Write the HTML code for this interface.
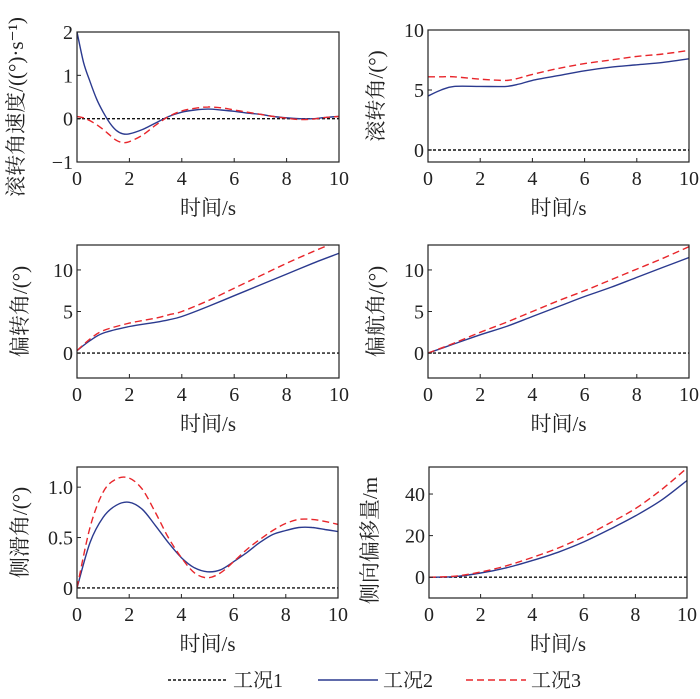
<!DOCTYPE html>
<html><head><meta charset="utf-8"><style>
body{margin:0;background:#fff}
svg text{font-family:"Liberation Serif","Noto Serif CJK SC",serif;fill:#222}
</style></head><body>
<svg id="c" width="700" height="694"></svg>
<script>
const T1=[0,0.25,0.5,0.75,1,1.25,1.5,1.75,2,2.5,3,3.5,4,4.5,5,5.5,6,6.5,7,7.5,8,8.5,9,9.5,10];
const rollRateB=[2.0,1.3,0.85,0.45,0.15,-0.1,-0.27,-0.35,-0.35,-0.25,-0.1,0.05,0.15,0.2,0.22,0.2,0.17,0.13,0.1,0.05,0.02,0.0,0.0,0.03,0.05];
const rollRateR=[0.05,0.02,-0.05,-0.14,-0.25,-0.38,-0.5,-0.55,-0.53,-0.38,-0.15,0.05,0.18,0.24,0.27,0.25,0.2,0.15,0.1,0.05,0.01,-0.02,-0.01,0.03,0.05];
const T2=[0,0.5,1,2,3,3.5,4,5,6,7,8,9,10];
const rollB=[4.5,5.0,5.3,5.3,5.3,5.5,5.8,6.2,6.6,6.9,7.1,7.3,7.6];
const rollR=[6.1,6.1,6.1,5.9,5.8,6.0,6.3,6.8,7.2,7.5,7.8,8.0,8.3];
const deflB=[0.3,1.5,2.4,3.2,3.7,4.0,4.4,5.6,6.9,8.2,9.5,10.8,12];
const deflR=[0.3,1.7,2.7,3.6,4.2,4.6,5.0,6.3,7.8,9.3,10.8,12.2,13.5];
const T3=[0,1,2,3,4,5,6,7,8,9,10];
const yawB=[0,1.1,2.2,3.2,4.4,5.6,6.8,7.9,9.1,10.3,11.5];
const yawR=[0,1.2,2.5,3.7,5,6.3,7.5,8.8,10.1,11.4,12.8];
const T4=[0,0.5,1,1.5,2,2.5,3,3.5,4,4.5,5,5.5,6,6.5,7,7.5,8,8.5,9,9.5,10];
const slipB=[0,0.45,0.7,0.82,0.85,0.78,0.62,0.45,0.3,0.2,0.16,0.18,0.26,0.35,0.45,0.53,0.57,0.6,0.6,0.58,0.56];
const slipR=[0,0.6,0.95,1.08,1.09,0.98,0.75,0.5,0.3,0.15,0.1,0.15,0.26,0.38,0.48,0.57,0.64,0.68,0.68,0.66,0.63];
const latB=[0,0.3,2,4.5,8,12,17,23,29.5,37,46.5];
const latR=[0,0.5,2.5,5.5,9.5,14,19.5,26,33,42,52.5];
const xTicks=[0,2,4,6,8,10];
const panels=[
 {n:'roll-rate',x0:77,x1:339,y0:32,y1:162,ymin:-1,ymax:2,yt:[-1,0,1,2],yl:['−1','0','1','2'],lab:'滚转角速度/((°)·s⁻¹)',lx:18,t:T1,b:rollRateB,r:rollRateR},
 {n:'roll-angle',x0:428,x1:689,y0:30,y1:162,ymin:-1,ymax:10,yt:[0,5,10],yl:['0','5','10'],lab:'滚转角/(°)',lx:378,t:T2,b:rollB,r:rollR},
 {n:'deflection-angle',x0:77,x1:339,y0:245,y1:378,ymin:-3,ymax:13,yt:[0,5,10],yl:['0','5','10'],lab:'偏转角/(°)',lx:22,t:T2,b:deflB,r:deflR},
 {n:'yaw-angle',x0:428,x1:689,y0:245,y1:378,ymin:-3,ymax:13,yt:[0,5,10],yl:['0','5','10'],lab:'偏航角/(°)',lx:378,t:T3,b:yawB,r:yawR},
 {n:'sideslip-angle',x0:77,x1:338,y0:467,y1:598,ymin:-0.1,ymax:1.2,yt:[0,0.5,1],yl:['0','0.5','1.0'],lab:'侧滑角/(°)',lx:22,t:T4,b:slipB,r:slipR},
 {n:'lateral-offset',x0:429,x1:687,y0:467,y1:598,ymin:-10,ymax:53,yt:[0,20,40],yl:['0','20','40'],lab:'侧向偏移量/m',lx:372,t:T3,b:latB,r:latR}
];
const svg=document.getElementById('c');
const NS='http://www.w3.org/2000/svg';
function mk(tag,at,par){const e=document.createElementNS(NS,tag);for(const k in at)e.setAttribute(k,at[k]);(par||svg).appendChild(e);return e;}
function smooth(pts){let d='M'+pts[0][0]+','+pts[0][1];for(let i=0;i<pts.length-1;i++){const p0=pts[i-1]||pts[i],p1=pts[i],p2=pts[i+1],p3=pts[i+2]||p2;
const c1x=p1[0]+(p2[0]-p0[0])/6,c1y=p1[1]+(p2[1]-p0[1])/6,c2x=p2[0]-(p3[0]-p1[0])/6,c2y=p2[1]-(p3[1]-p1[1])/6;
d+=' C'+c1x.toFixed(1)+','+c1y.toFixed(1)+' '+c2x.toFixed(1)+','+c2y.toFixed(1)+' '+p2[0].toFixed(1)+','+p2[1].toFixed(1);}return d;}
panels.forEach(p=>{
 const g=mk('g',{});
 
 
 const X=v=>p.x0+(v-0)/10*(p.x1-p.x0);
 const Y=v=>p.y1-(v-p.ymin)/(p.ymax-p.ymin)*(p.y1-p.y0);
 const cp='cp-'+p.n;
 const clip=mk('clipPath',{id:cp},g);mk('rect',{x:p.x0,y:p.y0,width:p.x1-p.x0,height:p.y1-p.y0},clip);
 const z=mk('line',{x1:p.x0,x2:p.x1,y1:Y(0),y2:Y(0),stroke:'#111','stroke-width':1.4,'stroke-dasharray':'3,2'},g);
 
 
 const b=mk('path',{d:smooth(p.t.map((t,i)=>[X(t),Y(p.b[i])])),fill:'none',stroke:'#2b3a8f','stroke-width':1.4,'clip-path':'url(#'+cp+')'},g);
 
 
 const r=mk('path',{d:smooth(p.t.map((t,i)=>[X(t),Y(p.r[i])])),fill:'none',stroke:'#e8262b','stroke-width':1.4,'stroke-dasharray':'7,4','clip-path':'url(#'+cp+')'},g);
 
 
 const box=mk('rect',{x:p.x0,y:p.y0,width:p.x1-p.x0,height:p.y1-p.y0,fill:'none',stroke:'#222','stroke-width':1.2},g);
 
 
 xTicks.forEach(t=>{
  mk('line',{x1:X(t),x2:X(t),y1:p.y1,y2:p.y1-4,stroke:'#222'},g);
  const tx=mk('text',{x:X(t),y:p.y1+23,'text-anchor':'middle','font-size':20},g);tx.textContent=t;
  
  
 });
 p.yt.forEach((v,i)=>{
  mk('line',{x1:p.x0,x2:p.x0+4,y1:Y(v),y2:Y(v),stroke:'#222'},g);
  const tx=mk('text',{x:p.x0-4,y:Y(v)+7,'text-anchor':'end','font-size':20},g);tx.textContent=p.yl[i];
  
  
 });
 const xl=mk('text',{x:(p.x0+p.x1)/2,y:p.y1+53,'text-anchor':'middle','font-size':21},g);xl.textContent='时间/s';
 
 
 const cy=(p.y0+p.y1)/2+(p.n==='roll-rate'?10:p.n==='lateral-offset'?8:0);
 const yl=mk('text',{x:p.lx,y:cy,'text-anchor':'middle','font-size':21,transform:'rotate(-90 '+p.lx+' '+cy+')','dominant-baseline':'middle'},g);yl.textContent=p.lab;
 
 
});
const lg=mk('g',{});


const ents=[['工况1','#111','3,2',168,'legend-entry-case1'],['工况2','#2b3a8f','none',318,'legend-entry-case2'],['工况3','#e8262b','7,4',466,'legend-entry-case3']];
ents.forEach(e=>{const eg=mk('g',{},lg);
 
 
 mk('line',{x1:e[3],x2:e[3]+60,y1:680,y2:680,stroke:e[1],'stroke-width':1.4,'stroke-dasharray':e[2]},eg);
 const t=mk('text',{x:e[3]+65,y:687,'font-size':20},eg);t.textContent=e[0];});
</script>
</body></html>
